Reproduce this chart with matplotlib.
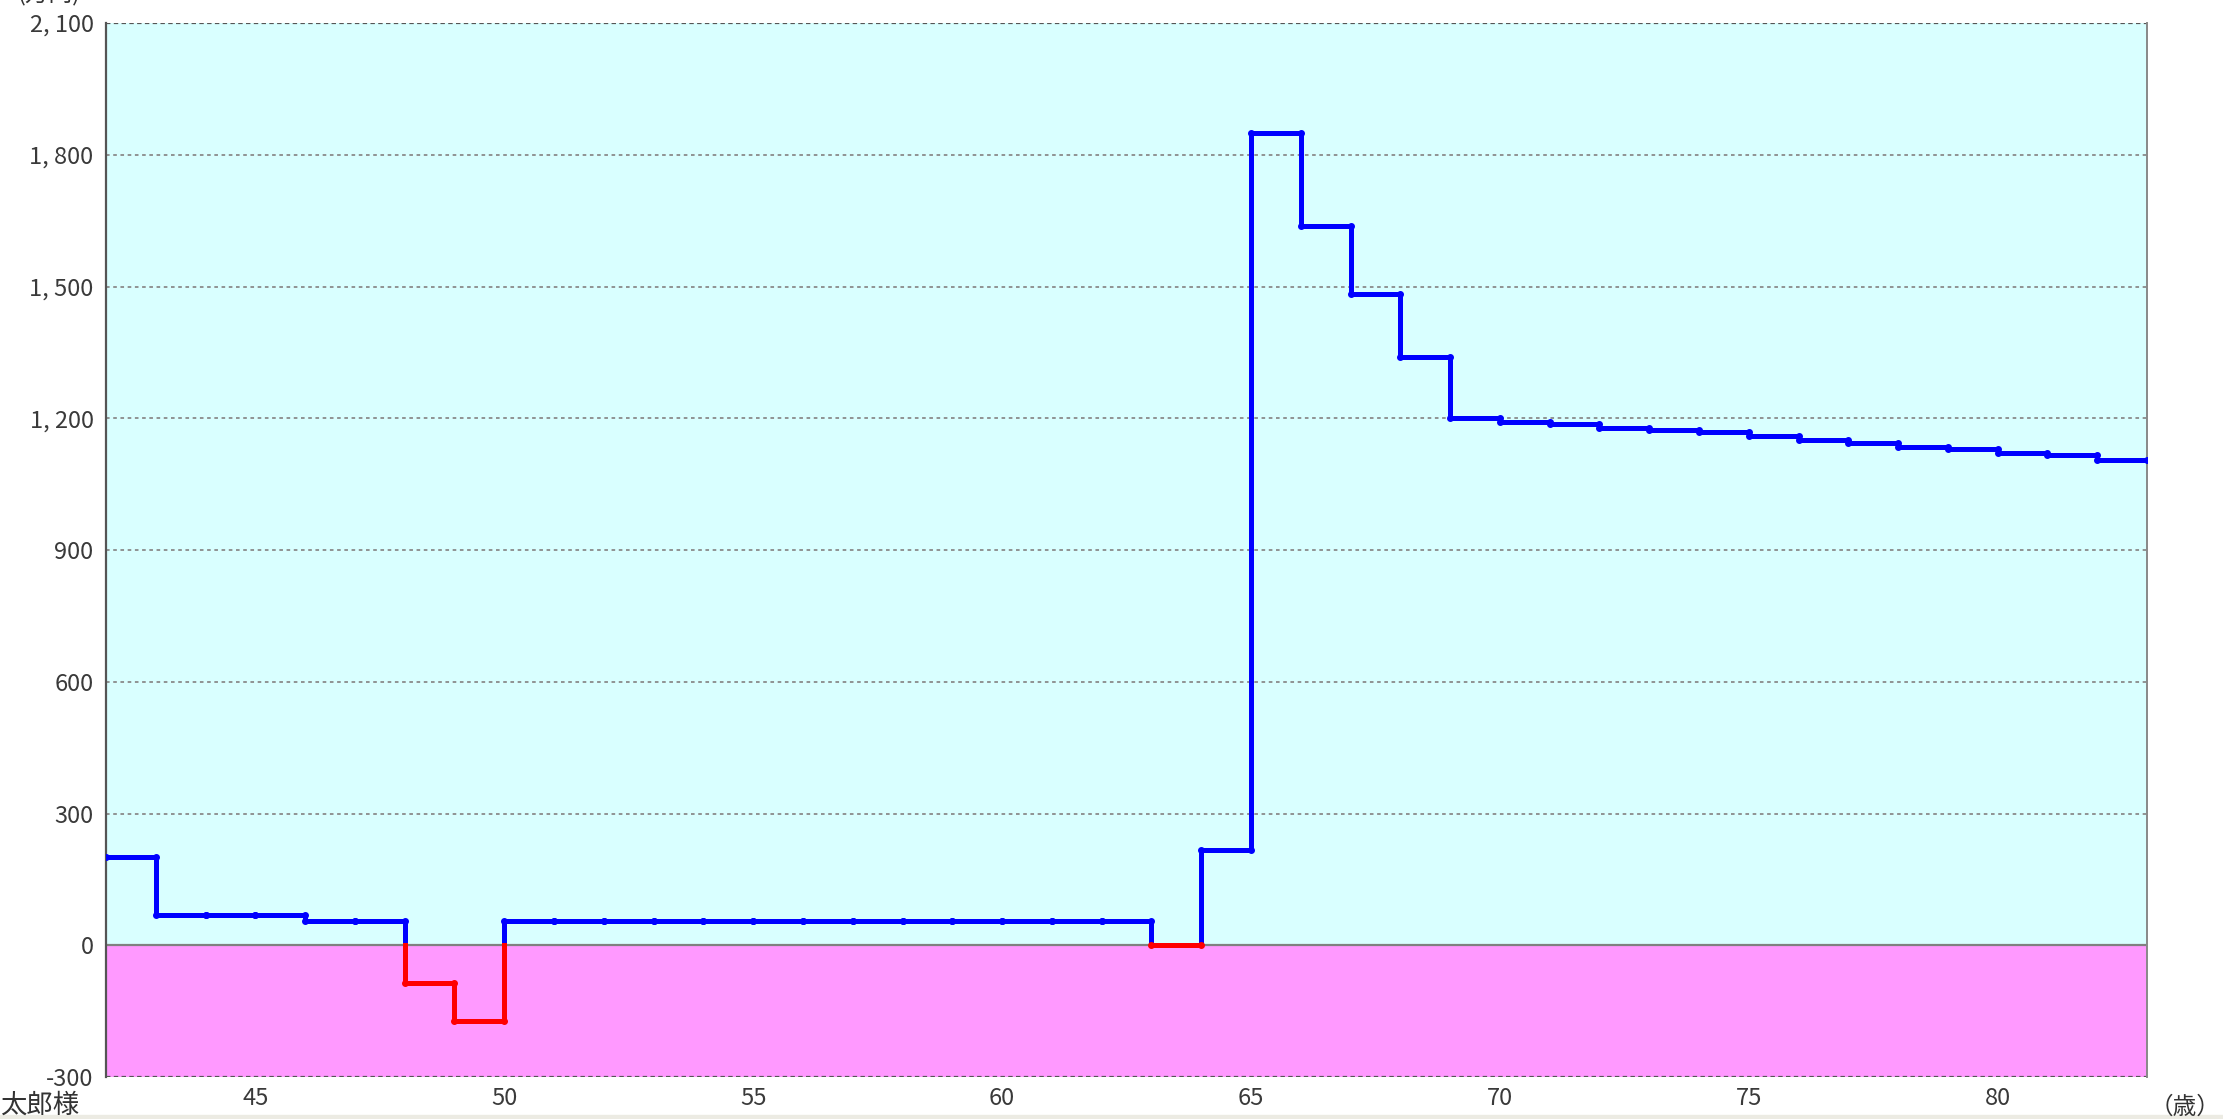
from matplotlib import pyplot as plt
from matplotlib.patches import Rectangle

plt.rcParams['font.family'] = ['Noto Sans CJK JP', 'DejaVu Sans']

ages = list(range(42, 83))
values = [200, 70, 70, 70, 55, 55, -85, -173,
          55, 55, 55, 55, 55, 55, 55, 55, 55, 55, 55, 55, 55,
          0, 216, 1850, 1637, 1482, 1340, 1200,
          1192, 1188, 1178, 1173, 1168, 1160, 1150, 1144, 1135, 1131, 1121, 1116, 1106]
x_ticks = [45, 50, 55, 60, 65, 70, 75, 80]
y_ticks = [-300, 0, 300, 600, 900, 1200, 1500, 1800, 2100]

BLUE = '#0000ff'
RED = '#ff0000'

fig = plt.figure(figsize=(22.23, 11.19), dpi=100)
ax = fig.add_axes([0.0477, 0.0375, 0.9181, 0.9419])

x_end = ages[-1] + 1
ax.set_xlim(ages[0], x_end)
ax.set_ylim(-300, 2100)

# backgrounds: plus / minus
ax.axhspan(0, 2100, color='#d9ffff', zorder=0)
ax.axhspan(-300, 0, color='#ff99ff', zorder=0)

for y in y_ticks:
    if y == 0:
        ax.axhline(y, color='#808080', lw=1.6, zorder=1)
    elif y in (-300, 2100):
        ax.axhline(y, color='#555555', lw=1.6, ls=(0, (2, 1.5)), zorder=1)
    else:
        ax.axhline(y, color='#8a8a8a', lw=1.3, ls=(0, (2, 2)), zorder=1)


def seg_color(v):
    return BLUE if v > 0 else RED


lw = 3.6
# horizontal parts
for i, a in enumerate(ages):
    v = values[i]
    ax.plot([a, a + 1], [v, v], color=seg_color(v), lw=lw,
            solid_capstyle='butt', zorder=3)
# vertical parts, split at zero
for i in range(1, len(ages)):
    a = ages[i]
    v0, v1 = values[i - 1], values[i]
    lo, hi = min(v0, v1), max(v0, v1)
    if hi > 0:
        ax.plot([a, a], [max(lo, 0), hi], color=BLUE, lw=lw, zorder=3)
    if lo < 0:
        ax.plot([a, a], [lo, min(hi, 0)], color=RED, lw=lw, zorder=3)

# small vertex dots
for i, a in enumerate(ages):
    v = values[i]
    ax.plot([a, a + 1], [v, v], ls='none', marker='o', ms=4.0,
            color=seg_color(v), zorder=4)

for s in ['top', 'bottom']:
    ax.spines[s].set_visible(False)
ax.spines['left'].set_color('#555555')
ax.spines['left'].set_linewidth(1.6)
ax.spines['right'].set_color('#888888')
ax.spines['right'].set_linewidth(1.4)

ax.set_yticks(y_ticks)
ax.set_yticklabels([f"{v:,}".replace(",", ", ") for v in y_ticks])
ax.set_xticks(x_ticks)
ax.set_xticklabels([str(x) for x in x_ticks])
ax.tick_params(length=0, labelsize=17, colors='#3a3a3a', pad=9)
ax.tick_params(axis='x', pad=7)

fig.text(0.0, 0.0, '太郎様', fontsize=19, color='#333333', ha='left', va='bottom')
fig.text(0.999, 0.0, '（歳）', fontsize=17, color='#333333', ha='right', va='bottom')
fig.text(0.008, 0.9955, '(万円)', fontsize=17, color='#333333', ha='left', va='bottom')

fig.patches.append(Rectangle((0, 0), 1, 0.004, transform=fig.transFigure,
                             color='#ecebe3', zorder=0))

fig.savefig('out.png', dpi=100)
